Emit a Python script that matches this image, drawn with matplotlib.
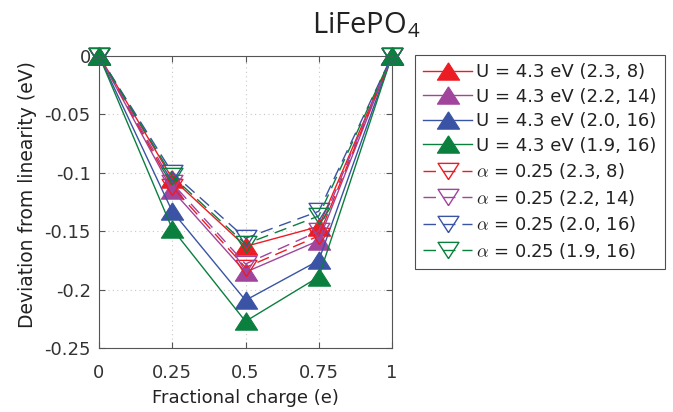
import matplotlib
matplotlib.use("Agg")
import matplotlib.pyplot as plt

plt.rcParams['font.family'] = ['DejaVu Sans']
plt.rcParams['mathtext.fontset'] = 'cm'

# Fractional charge grid
charge = [0, 0.25, 0.5, 0.75, 1]

# Hubbard-U results (filled up-triangles, solid lines)
u_red = [0, -0.105, -0.163, -0.146, 0]
u_magenta = [0, -0.115, -0.185, -0.158, 0]
u_blue = [0, -0.133, -0.209, -0.175, 0]
u_green = [0, -0.148, -0.227, -0.189, 0]

# alpha = 0.25 results (open down-triangles, dashed lines)
a_red = [0, -0.112, -0.181, -0.154, 0]
a_magenta = [0, -0.109, -0.178, -0.150, 0]
a_blue = [0, -0.100, -0.156, -0.133, 0]
a_green = [0, -0.103, -0.161, -0.137, 0]

labels_u = ['U = 4.3 eV (2.3, 8)', 'U = 4.3 eV (2.2, 14)',
            'U = 4.3 eV (2.0, 16)', 'U = 4.3 eV (1.9, 16)']
labels_a = [r'$\alpha$ = 0.25 (2.3, 8)', r'$\alpha$ = 0.25 (2.2, 14)',
            r'$\alpha$ = 0.25 (2.0, 16)', r'$\alpha$ = 0.25 (1.9, 16)']

colors = ['#ec1c24', '#a0449c', '#3a53a4', '#0a7f3e']

# wide triangles, as drawn by the original plotting tool
tri_up = [(0, 0.78), (-1, -0.78), (1, -0.78), (0, 0.78)]
tri_down = [(0, -0.78), (-1, 0.78), (1, 0.78), (0, -0.78)]

fig = plt.figure(figsize=(6.73, 4.12), dpi=100)
ax = fig.add_axes([99 / 673, 1 - 348.3 / 412, 293 / 673, (348.3 - 55.6) / 412])

for vals, c, lab in zip([u_red, u_magenta, u_blue, u_green], colors, labels_u):
    ax.plot(charge, vals, color=c, lw=1.0, marker=tri_up, ms=16,
            mfc=c, mec=c, mew=0.8, label=lab, clip_on=False, zorder=3)

for vals, c, lab in zip([a_red, a_magenta, a_blue, a_green], colors, labels_a):
    ax.plot(charge, vals, color=c, lw=1.0, ls=(0, (9, 5)), marker=tri_down, ms=15,
            mfc='none', mec=c, mew=1.0, label=lab, clip_on=False, zorder=4)

ax.set_xlim(0, 1)
ax.set_ylim(-0.25, 0)
ax.set_xticks([0, 0.25, 0.5, 0.75, 1])
ax.set_xticklabels(['0', '0.25', '0.5', '0.75', '1'])
ax.set_yticks([-0.25, -0.2, -0.15, -0.1, -0.05, 0])
ax.set_yticklabels(['-0.25', '-0.2', '-0.15', '-0.1', '-0.05', '0'])

ax.grid(True, ls=(0, (1, 3)), color='#c8c8c8', lw=0.8)
ax.set_axisbelow(True)
for s in ax.spines.values():
    s.set_color('#555555')
    s.set_linewidth(0.8)
ax.tick_params(direction='in', top=True, right=True, length=4, width=0.8,
               color='#555555', labelcolor='#333333', labelsize=13)
ax.tick_params(axis='x', pad=11)
ax.tick_params(axis='y', pad=6)

ax.set_xlabel('Fractional charge (e)', fontsize=13, color='#222222', labelpad=5)
ax.set_ylabel('Deviation from linearity (eV)', fontsize=13.5, color='#222222')
ax.yaxis.set_label_coords(-0.212, 0.524)

fig.text(312 / 673, 1 - 33 / 412, r'LiFePO$_\mathregular{4}$', fontsize=21,
         family='Open Sans', color='#222222', ha='left', va='baseline')

leg = ax.legend(loc='upper left', bbox_to_anchor=(415 / 673, 1 - 55 / 412),
                bbox_transform=fig.transFigure, borderaxespad=0, fontsize=13,
                frameon=True, fancybox=False, handlelength=2.7, handletextpad=0.25,
                labelspacing=0.36, borderpad=0.45)
leg.get_frame().set_edgecolor('#222222')
leg.get_frame().set_linewidth(0.8)
for t in leg.get_texts():
    t.set_color('#222222')

fig.savefig('out.png', dpi=100)
